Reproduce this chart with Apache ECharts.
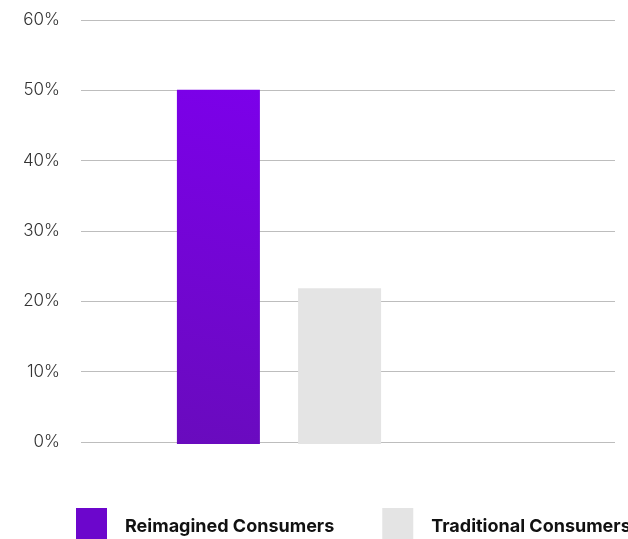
<!DOCTYPE html>
<html>
<head>
<meta charset="utf-8">
<script src="https://cdn.jsdelivr.net/npm/echarts@6/dist/echarts.min.js"></script>
<style>
html,body{margin:0;padding:0;background:#fff;}
#chart{width:628px;height:539px;}
</style>
</head>
<body>
<div id="chart"></div>
<script>
var seriesNames = ['Reimagined Consumers', 'Traditional Consumers'];
var seriesValues = [50, 22];
var categories = ['Consumers'];
var yTicks = [0, 10, 20, 30, 40, 50, 60];

var chart = echarts.init(document.getElementById('chart'), null, {renderer: 'canvas'});

var purple = new echarts.graphic.LinearGradient(0, 1, 1, 0, [
  {offset: 0, color: '#690bbd'},
  {offset: 1, color: '#7c00ea'}
]);
var colors = [purple, '#e4e4e4'];
var legendColors = ['#6c06cc', '#e4e4e4'];

var option = {
  animation: false,
  backgroundColor: '#ffffff',
  grid: [
    {left: 81, right: 13, top: 20, bottom: 97},
    {left: 81, right: 151, top: 19, bottom: 95}
  ],
  legend: {
    left: 71,
    top: 503,
    width: 900,
    itemWidth: 31,
    itemHeight: 38,
    itemGap: 48,
    icon: 'rect',
    data: seriesNames.map(function (n, i) {
      return {name: n, itemStyle: {color: legendColors[i]}};
    }),
    textStyle: {
      fontFamily: 'Inter',
      fontWeight: 700,
      fontSize: 18,
      color: '#111',
      padding: [0, 0, 0, 13]
    }
  },
  xAxis: [
    {gridIndex: 0, type: 'category', data: categories, show: false},
    {gridIndex: 1, type: 'category', data: categories, show: false}
  ],
  yAxis: [
    {
      gridIndex: 0, type: 'value', min: yTicks[0], max: yTicks[yTicks.length - 1], interval: 10,
      axisLine: {show: false}, axisTick: {show: false},
      splitLine: {lineStyle: {color: '#bdbdbd', width: 1}},
      axisLabel: {
        formatter: function (v) { return v + '%'; },
        fontFamily: 'Inter', fontSize: 17, fontWeight: 300, color: '#333',
        margin: 21, verticalAlign: 'middle', lineHeight: 17, padding: [0, 0, 8, 0]
      }
    },
    {gridIndex: 1, type: 'value', min: yTicks[0], max: yTicks[yTicks.length - 1], interval: 10, show: false, splitLine: {show: false}}
  ],
  series: seriesNames.map(function (n, i) {
    return {
      name: n,
      type: 'bar',
      xAxisIndex: 1,
      yAxisIndex: 1,
      barWidth: 83,
      barGap: '46%',
      data: [seriesValues[i]],
      itemStyle: {color: colors[i]}
    };
  })
};
chart.setOption(option);
</script>
</body>
</html>
